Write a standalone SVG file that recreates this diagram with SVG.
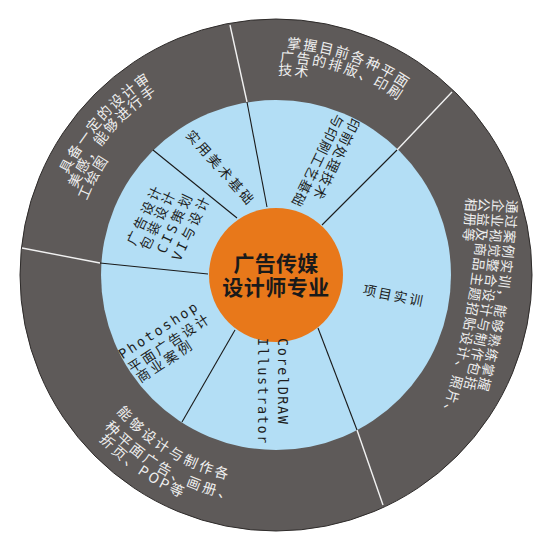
<svg xmlns="http://www.w3.org/2000/svg" xmlns:xlink="http://www.w3.org/1999/xlink" width="550" height="550" viewBox="0 0 550 550">
<style>
.cjk{font-family:"Noto Sans CJK SC","Noto Sans",sans-serif;}
.mono{font-family:"DejaVu Sans Mono","Liberation Mono",monospace;}
.outer{font-size:14px;fill:#efefef;letter-spacing:2px;}
.outerb{font-size:14px;fill:#efefef;letter-spacing:2.8px;}
.outerr{font-size:13.5px;fill:#efefef;letter-spacing:1.4px;}
.inner{font-size:13.5px;fill:#1e1e1e;}
.title{font-size:21px;font-weight:bold;fill:#1a1a1a;text-anchor:middle;}
.wline{stroke:#f2f2f2;stroke-width:1.4;}
.bline{stroke:#1a1a1a;stroke-width:1.1;}
</style>
<defs>
<path id="t1" d="M 286.7 48.3 A 227 227 0 0 1 449.9 129.1"/>
<path id="t2" d="M 279.7 62.0 A 213 213 0 0 1 439.2 138.1"/>
<path id="t3" d="M 278.1 75.0 A 200 200 0 0 1 376 101.8"/>
<path id="l1" d="M 68.0 174.5 A 231 231 0 0 1 235.9 47.5"/>
<path id="l2" d="M 76.8 188.8 A 217 217 0 0 1 238.3 61.3"/>
<path id="l3" d="M 87.0 200.9 A 203 203 0 0 1 174.5 99.2"/>
<path id="b1" d="M 116.5 411.7 A 210 210 0 0 0 312.5 481.8"/>
<path id="b2" d="M 104.5 426.7 A 229 229 0 0 0 315.8 500.5"/>
<path id="b3" d="M 99.0 440.0 A 242 242 0 0 0 276 517"/>
<path id="r1" d="M 507.2 199.7 A 900 900 0 0 1 464.3 435.8"/>
<path id="r2" d="M 493.2 198.7 A 900 900 0 0 1 450.3 434.8"/>
<path id="r3" d="M 479.2 197.7 A 900 900 0 0 1 436.3 433.8"/>
<path id="r4" d="M 466.2 197.7 A 900 900 0 0 1 423.3 433.8"/>
</defs>

<g id="rings">
<circle cx="276" cy="275" r="256" fill="#5e5a59" stroke="#2e2b2a" stroke-width="1"/>
<circle cx="276" cy="275" r="175" fill="#b3def5"/>
</g>

<g id="connectors">
<line class="wline" x1="230" y1="25" x2="247" y2="102"/>
<line class="wline" x1="452" y1="92" x2="397" y2="150"/>
<line class="wline" x1="383" y1="505" x2="357" y2="430"/>
<line class="wline" x1="22" y1="248" x2="100" y2="263"/>
<line class="bline" x1="153" y1="150" x2="237" y2="218"/>
<line class="bline" x1="247" y1="102" x2="267" y2="207"/>
<line class="bline" x1="397" y1="150" x2="322" y2="225"/>
<line class="bline" x1="318" y1="328" x2="357" y2="430"/>
<line class="bline" x1="235" y1="330" x2="182" y2="422"/>
<line class="bline" x1="100" y1="263" x2="208" y2="274"/>
</g>

<g id="center">
<circle cx="276" cy="275" r="67" fill="#e8781a"/>
<text class="cjk title" x="276" y="271" letter-spacing="0.3">广告传媒</text>
<text class="cjk title" x="276" y="294.5" letter-spacing="0.5">设计师专业</text>
</g>

<g id="inner-art">
<text class="cjk inner" transform="translate(185,135.4) rotate(48.3)" letter-spacing="2.5">实用美术基础</text>
</g>
<g id="inner-prepress">
<text class="cjk inner" transform="translate(351.4,117) rotate(116)" letter-spacing="1.4">印前处理技术</text>
<text class="cjk inner" transform="translate(335.4,113) rotate(116)" letter-spacing="1">与印刷工艺基础</text>
</g>
<g id="inner-project">
<text class="cjk inner" font-size="15" text-anchor="middle" transform="translate(393,300.5) rotate(11.3)" letter-spacing="2.2">项目实训</text>
</g>
<g id="inner-corel">
<text class="mono inner" font-size="12" transform="translate(277.5,338) rotate(90)" letter-spacing="1.6">CorelDRAW</text>
<text class="mono inner" font-size="12" transform="translate(257.5,338) rotate(90)" letter-spacing="1.6">Illustrator</text>
</g>
<g id="inner-photoshop">
<text class="mono inner" font-size="13" transform="translate(122.6,359.4) rotate(-33.3)" letter-spacing="2.2">Photoshop</text>
<text class="cjk inner" font-size="14" transform="translate(132.1,373.3) rotate(-33.3)" letter-spacing="2.5">平面广告设计</text>
<text class="cjk inner" font-size="14" transform="translate(140.4,383.3) rotate(-33.3)" letter-spacing="3">商业案例</text>
</g>
<g id="inner-design">
<text class="cjk inner" transform="translate(134.9,246.3) rotate(-64.3)" letter-spacing="3">广告设计</text>
<text class="cjk inner" transform="translate(148.3,251.3) rotate(-64.3)" letter-spacing="3">包装设计</text>
<text class="cjk inner" transform="translate(165,254.5) rotate(-64.3)" letter-spacing="3"><tspan class="mono">CIS</tspan>策划</text>
<text class="cjk inner" transform="translate(180,262) rotate(-64.3)" letter-spacing="3"><tspan class="mono">VI</tspan>与设计</text>
</g>

<g id="outer-skill">
<text class="cjk outer"><textPath xlink:href="#l1" href="#l1">具备一定的设计审</textPath></text>
<text class="cjk outer"><textPath xlink:href="#l2" href="#l2">美感，能够进行手</textPath></text>
<text class="cjk outer"><textPath xlink:href="#l3" href="#l3">工绘图</textPath></text>
</g>
<g id="outer-print">
<text class="cjk outer"><textPath xlink:href="#t1" href="#t1">掌握目前各种平面</textPath></text>
<text class="cjk outer"><textPath xlink:href="#t2" href="#t2">广告的排版、印刷</textPath></text>
<text class="cjk outer"><textPath xlink:href="#t3" href="#t3">技术</textPath></text>
</g>
<g id="outer-project">
<text class="cjk outerr"><textPath xlink:href="#r1" href="#r1">通过案例实训，能够熟练掌握</textPath></text>
<text class="cjk outerr"><textPath xlink:href="#r2" href="#r2">企业视觉整合设计与制作包括</textPath></text>
<text class="cjk outerr"><textPath xlink:href="#r3" href="#r3">公益及商品主题招贴设计、照片、</textPath></text>
<text class="cjk outerr"><textPath xlink:href="#r4" href="#r4">相册等</textPath></text>
</g>
<g id="outer-make">
<text class="cjk outerb"><textPath xlink:href="#b1" href="#b1">能够设计与制作各</textPath></text>
<text class="cjk outerb"><textPath xlink:href="#b2" href="#b2">种平面广告、画册、</textPath></text>
<text class="cjk outerb"><textPath xlink:href="#b3" href="#b3">折页、POP等</textPath></text>
</g>
</svg>
